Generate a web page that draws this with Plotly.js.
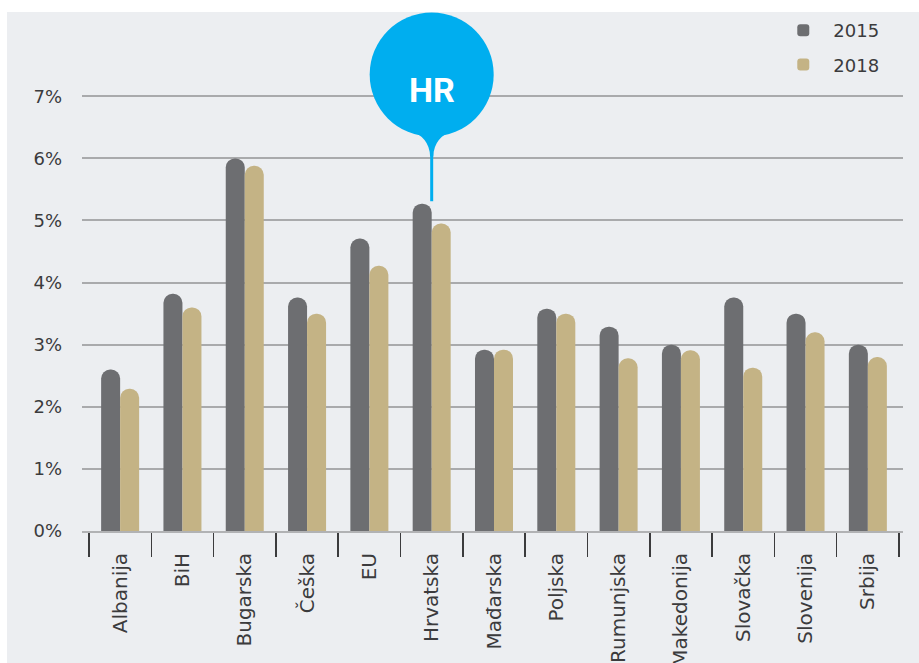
<!DOCTYPE html>
<html>
<head>
<meta charset="utf-8">
<script src="https://cdn.plot.ly/plotly-3.0.1.min.js"></script>
<style>
html,body{margin:0;padding:0;background:#ffffff;}
#chart{width:919px;height:663px;}
</style>
</head>
<body>
<div id="chart"></div>
<script>
const categories = ["Albanija","BiH","Bugarska","Češka","EU","Hrvatska","Mađarska","Poljska","Rumunjska","Makedonija","Slovačka","Slovenija","Srbija"];
const values2015 = [2.6, 3.82, 6.0, 3.76, 4.71, 5.27, 2.92, 3.58, 3.29, 3.0, 3.76, 3.5, 3.0];
const values2018 = [2.29, 3.6, 5.88, 3.5, 4.27, 4.95, 2.92, 3.5, 2.78, 2.91, 2.63, 3.2, 2.8];
const seriesNames = ["2015", "2018"];
const yTickVals = [0, 1, 2, 3, 4, 5, 6, 7];
const highlightCategory = "Hrvatska";
const highlightLabel = "HR";

const font = "DejaVu Sans, Roboto, sans-serif";
const grey = "#6d6e71";
const tan = "#c4b385";
const blue = "#00aeef";
const textCol = "#3b3b3d";
const hi = categories.indexOf(highlightCategory);

const traces = [
  {type:"bar", name:seriesNames[0], x:categories, y:values2015, legendgroup:"a",
   marker:{color:grey, cornerradius:"50%"}, hoverinfo:"x+y"},
  {type:"bar", name:seriesNames[1], x:categories, y:values2018, legendgroup:"b",
   marker:{color:tan, cornerradius:"50%"}, hoverinfo:"x+y"}
];

const layout = {
  width:919, height:663,
  margin:{l:82, r:16, t:12, b:132},
  paper_bgcolor:"#eceef1",
  plot_bgcolor:"#eceef1",
  barmode:"group", bargap:0.39, bargroupgap:0,
  font:{family:font, color:textCol, size:18},
  xaxis:{
    type:"category", range:[-0.612, 12.564],
    tickangle:-90, tickfont:{size:20, color:textCol},
    ticks:"outside", tickson:"boundaries", ticklen:24, tickwidth:1.5, tickcolor:"#3b3b3d",
    ticklabelstandoff:12,
    showline:true, linecolor:"#b1b2b4", linewidth:2,
    showgrid:false, zeroline:false, fixedrange:true
  },
  yaxis:{
    range:[0, 8.357], tickvals:yTickVals, ticktext:yTickVals.map(v=>v+"%"),
    tickfont:{size:18, color:textCol},
    ticklabelstandoff:19,
    showgrid:true, gridcolor:"#a9aaac", gridwidth:2,
    zeroline:false, showline:false, ticks:"", fixedrange:true
  },
  showlegend:true,
  legend:{x:0.842, xanchor:"left", y:1.0, yanchor:"top", bgcolor:"rgba(0,0,0,0)",
    font:{size:18, color:textCol}, itemwidth:50, tracegroupgap:8, traceorder:"grouped"},
  shapes:[
    {type:"rect", xref:"paper", yref:"paper", x0:-0.2, x1:1.1, y0:1, y1:1.1, fillcolor:"#ffffff", line:{width:0}, layer:"below"},
    {type:"rect", xref:"paper", yref:"paper", x0:-0.2, x1:(7-82)/821, y0:-0.3, y1:1.1, fillcolor:"#ffffff", line:{width:0}, layer:"below"},
    {type:"circle", xref:"x", yref:"y", xsizemode:"pixel", ysizemode:"pixel",
     xanchor:hi, yanchor:7.35, x0:-62, x1:62, y0:-62, y1:62,
     fillcolor:blue, line:{width:0}, layer:"above"},
    {type:"path", xref:"x", yref:"y", xsizemode:"pixel", ysizemode:"pixel",
     xanchor:hi, yanchor:7.35,
     path:"M -24,-55 Q -2,-62 -1.6,-82 L 1.6,-82 Q 2,-62 24,-55 Z",
     fillcolor:blue, line:{width:0}, layer:"above"},
    {type:"line", xref:"x", yref:"y", x0:hi, x1:hi, y0:5.31, y1:6.1,
     line:{color:blue, width:3}, layer:"above"}
  ],
  annotations:[
    {xref:"x", yref:"y", x:hi, y:7.35, yshift:-15, text:"<b>"+highlightLabel+"</b>", showarrow:false,
     font:{family:"Roboto, DejaVu Sans, sans-serif", size:34, color:"#ffffff"}}
  ]
};

Plotly.newPlot("chart", traces, layout, {displayModeBar:false, staticPlot:true});
</script>
</body>
</html>
